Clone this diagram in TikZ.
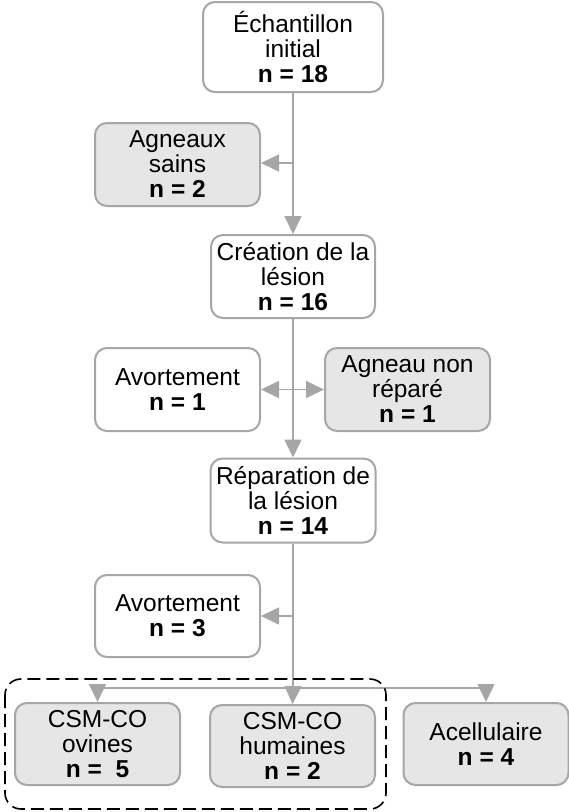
\documentclass[tikz,border=0pt]{standalone}
\usepackage{fontspec}
\setmainfont{Liberation Sans}
\usetikzlibrary{arrows.meta}
\definecolor{edgegray}{HTML}{A6A6A6}
\definecolor{fillgray}{HTML}{E6E6E6}
\tikzstyle{block} = [rectangle, rounded corners=12pt, minimum width=165pt, minimum height=83pt, text centered, align=center, draw=edgegray, line width=2pt, fill=white, inner sep=1pt, font=\fontsize{24.5}{25}\selectfont]
\tikzstyle{greyblock} = [block, fill=fillgray]
\tikzstyle{arrow} = [draw=edgegray, line width=1.6pt, -{Triangle[length=18pt,width=17pt]}, color=edgegray]
\tikzstyle{line} = [draw=edgegray, line width=1.6pt]

\begin{document}
\begin{tikzpicture}[x=1pt, y=-1pt]
        \useasboundingbox (0,0) rectangle (569,812);
        % main column
        \node (init) [block, minimum width=180pt, minimum height=90pt] at (293,47) {Échantillon\\initial\\\textbf{n = 18}};
        \node (lesion) [block, minimum width=164pt] at (293,276.5) {Création de la\\lésion\\\textbf{n = 16}};
        \node (repar) [block, minimum height=84pt] at (293,500.5) {Réparation de\\la lésion\\\textbf{n = 14}};
        % side boxes
        \node (sains) [greyblock] at (177.5,164.5) {Agneaux\\sains\\\textbf{n = 2}};
        \node (avort1) [block] at (177.5,389.5) {Avortement\\\textbf{n = 1}};
        \node (nonrep) [greyblock] at (407.5,389.5) {Agneau non\\réparé\\\textbf{n = 1}};
        \node (avort3) [block, minimum height=82pt] at (177.5,616) {Avortement\\\textbf{n = 3}};
        % groups
        \node (ovines) [greyblock, minimum height=82pt] at (97.5,744) {CSM-CO\\ovines\\\textbf{n = \ 5}};
        \node (humaines) [greyblock, minimum height=82pt] at (292.5,746) {CSM-CO\\humaines\\\textbf{n = 2}};
        \node (acell) [greyblock, minimum height=82pt] at (486,744) {Acellulaire\\\textbf{n = 4}};

        \coordinate (split) at (293,688);

        \draw [arrow] (init.south) -- (lesion.north);
        \draw [arrow] (init.south |- 0,163) -- (sains.east |- 0,163);
        \draw [arrow] (lesion.south) -- (repar.north);
        \draw [arrow, {Triangle[length=18pt,width=17pt]}-{Triangle[length=18pt,width=17pt]}] (avort1.east) -- (nonrep.west);
        \draw [line] (repar.south) -- (split);
        \draw [arrow] (split) -- (humaines.north);
        \draw [arrow] (repar.south |- avort3.east) -- (avort3.east);
        \draw [arrow] (split) -| (ovines.north);
        \draw [arrow] (split) -| (acell.north);

        \draw [black, line width=1.6pt, dash pattern=on 13pt off 6pt, rounded corners=16pt] (5,679) rectangle (386,809);
    \end{tikzpicture}
\end{document}
